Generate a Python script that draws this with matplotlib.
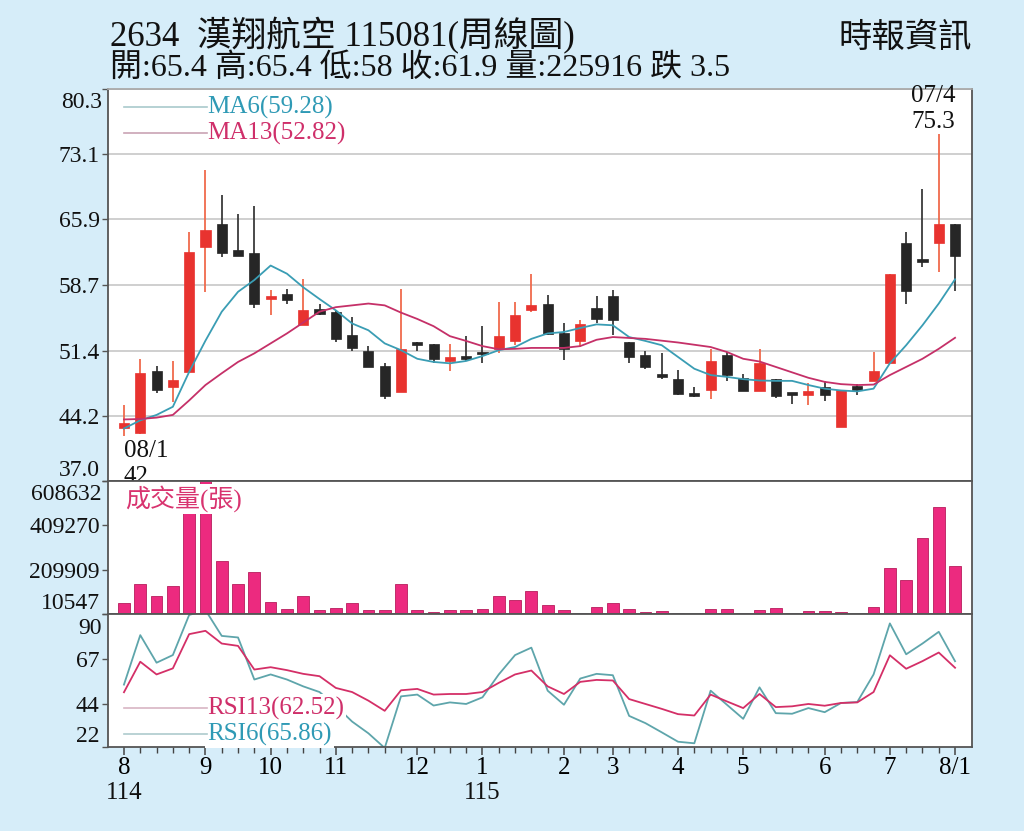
import numpy as np
import matplotlib
matplotlib.use('Agg')
import matplotlib.pyplot as plt
from matplotlib.lines import Line2D

plt.rcParams['font.family'] = ['Liberation Serif', 'Noto Sans CJK TC', 'DejaVu Sans']

# weekly candles, 2634 漢翔航空 (114/08 - 115/08)
opens = [42.8, 42.3, 49.1, 47.4, 49.0, 62.9, 65.4, 62.5, 62.2, 57.1,
         57.7, 54.2, 56.0, 55.7, 53.1, 51.4, 49.7, 46.8, 52.4, 52.1,
         50.2, 50.8, 51.3, 51.6, 52.5, 55.9, 56.6, 53.4, 52.5, 56.1,
         57.4, 52.3, 50.9, 48.8, 48.3, 46.7, 47.0, 50.9, 48.4, 46.9,
         48.3, 46.6, 46.5, 47.4, 43.0, 47.5, 48.1, 50.0, 63.3, 61.5,
         63.3, 65.4]
highs = [45.4, 50.5, 49.7, 50.3, 64.5, 71.4, 68.6, 66.5, 67.4, 58.1,
         58.2, 59.3, 56.6, 55.9, 55.1, 51.9, 50.0, 58.2, 52.4, 52.1,
         52.1, 53.0, 54.1, 56.8, 56.8, 59.9, 57.5, 54.5, 54.8, 57.4,
         58.1, 52.3, 51.4, 51.1, 49.3, 47.4, 51.6, 51.3, 48.8, 51.6,
         48.3, 46.6, 47.8, 48.1, 47.0, 47.7, 51.3, 59.9, 64.5, 69.3,
         75.3, 65.4]
lows = [42.0, 42.2, 46.7, 45.7, 49.0, 57.9, 61.7, 61.8, 56.1, 55.3,
        56.5, 54.2, 55.3, 52.4, 51.4, 49.6, 46.1, 46.8, 51.4, 50.0,
        49.1, 50.3, 50.0, 51.1, 52.0, 55.7, 53.1, 50.4, 51.8, 54.4,
        53.1, 50.0, 49.4, 48.3, 46.5, 46.3, 46.1, 48.0, 46.9, 46.9,
        46.2, 45.5, 45.4, 45.8, 43.0, 46.5, 48.1, 50.0, 56.6, 60.6,
        60.1, 58.0]
closes = [43.4, 48.9, 47.1, 48.2, 62.3, 64.7, 62.2, 61.9, 56.5, 57.4,
          57.0, 55.9, 55.4, 52.7, 51.7, 49.6, 46.4, 51.6, 52.0, 50.5,
          50.7, 50.5, 51.0, 53.0, 55.3, 56.4, 53.2, 51.6, 54.3, 54.9,
          54.8, 50.7, 49.6, 48.5, 46.6, 46.4, 50.3, 48.7, 46.9, 50.0,
          46.4, 46.5, 46.9, 46.5, 47.0, 47.1, 49.1, 59.9, 58.0, 61.2,
          65.4, 61.9]
volumes = [61000, 144000, 93000, 138000, 540000, 608632, 249000, 145000, 201000, 63000,
           33000, 93000, 27000, 37000, 58000, 30000, 30000, 145000, 27000, 21000,
           27000, 27000, 33000, 91000, 72000, 115000, 51000, 27000, 15000, 42000,
           61000, 34000, 21000, 25000, 16000, 11000, 32000, 32000, 15000, 29000,
           37000, 15000, 25000, 23000, 19000, 11000, 43000, 217000, 162000, 351000,
           493000, 225916]
ma6 = [42.8, 43.7, 44.3, 45.2, 49.05, 52.5, 55.7, 57.9, 59.2, 60.8,
       59.9, 58.4, 57.1, 55.85, 54.4, 53.65, 52.2, 51.45, 50.5, 50.15,
       50.0, 50.26, 50.8, 51.45, 51.8, 52.7, 53.3, 53.46, 53.9, 54.3,
       54.2, 52.9, 52.47, 52.0, 50.7, 49.4, 48.7, 48.5, 48.25, 48.1,
       48.06, 48.06, 47.6, 47.2, 47.0, 46.9, 47.2, 50.0, 52.0, 54.2,
       56.6, 59.28]
ma13 = [43.8, 43.85, 44.0, 44.3, 45.9, 47.6, 48.9, 50.15, 51.1, 52.2,
        53.3, 54.5, 55.7, 56.2, 56.4, 56.6, 56.4, 55.6, 54.9, 54.1,
        53.0, 52.47, 51.9, 51.55, 51.6, 51.7, 51.7, 51.7, 51.9, 52.6,
        52.9, 52.8, 52.7, 52.5, 52.3, 52.05, 51.8, 51.25, 50.5, 50.2,
        49.6, 49.0, 48.4, 47.95, 47.7, 47.6, 47.65, 48.7, 49.6, 50.5,
        51.6, 52.82]
rsi6 = [53.9, 79.2, 65.1, 69.0, 89.5, 92.0, 78.8, 78.0, 56.5, 59.1,
        56.5, 53.0, 50.1, 43.0, 35.0, 29.0, 21.5, 47.9, 48.8, 43.2,
        44.8, 44.0, 47.4, 59.1, 69.0, 72.8, 50.8, 43.6, 57.0, 59.4,
        58.7, 37.9, 34.2, 29.5, 24.7, 23.9, 50.8, 43.6, 36.4, 52.5,
        39.3, 39.0, 41.9, 39.8, 44.5, 45.0, 59.1, 85.2, 69.4, 74.9,
        80.9, 65.86]
rsi13 = [50.0, 65.6, 59.1, 62.2, 79.7, 81.4, 74.9, 73.7, 61.6, 62.8,
         61.3, 59.4, 58.2, 52.2, 50.1, 45.7, 40.5, 51.0, 51.7, 48.8,
         49.1, 49.1, 50.1, 54.8, 59.1, 61.1, 53.0, 49.1, 55.3, 56.3,
         56.0, 46.5, 44.0, 41.5, 38.8, 38.1, 48.8, 45.3, 41.9, 49.1,
         42.4, 42.8, 44.0, 43.1, 44.5, 44.8, 50.1, 68.9, 62.0, 65.9,
         70.3, 62.52]

month_idx = [0, 5, 9, 13, 18, 22, 27, 30, 34, 38, 43, 47, 51]
month_lbl = ['8', '9', '10', '11', '12', '1', '2', '3', '4', '5', '6', '7', '8/1']
year_idx = [0, 22]
year_lbl = ['114', '115']
price_ticks = [37.0, 44.2, 51.4, 58.7, 65.9, 73.1, 80.3]
vol_ticks = [10547, 209909, 409270, 608632]
rsi_ticks = [22, 44, 67, 90]

BG = '#d6edf9'
RED = '#e8332f'
BLK = '#262626'
C_MA6 = '#3a9db4'
C_MA13 = '#c53068'
C_VOL = '#ec2a7f'
C_R6 = '#5ea5ab'
C_R13 = '#d42f67'

W, H = 1024., 831.


def box(l, t, r, b):
    return [l / W, 1 - b / H, (r - l) / W, (b - t) / H]


fig = plt.figure(figsize=(10.24, 8.31), dpi=100)
fig.patch.set_facecolor(BG)
ax1 = fig.add_axes(box(108, 89, 972, 481))
ax2 = fig.add_axes(box(108, 481, 972, 614), sharex=ax1)
ax3 = fig.add_axes(box(108, 614, 972, 747), sharex=ax1)

x = np.arange(len(closes))
o = np.array(opens)
c = np.array(closes)
up = c >= o
body_col = np.where(up, RED, BLK)
wick_col = np.where(up, '#f06a4c', '#3a3a3a')

# price panel
ax1.vlines(x, lows, highs, colors=wick_col, lw=1.3, zorder=2)
ax1.bar(x, np.maximum(np.abs(c - o), 0.3), bottom=np.minimum(o, c), width=0.62,
        color=body_col, edgecolor=body_col, lw=0.5, zorder=3)
ax1.plot(x, ma6, color=C_MA6, lw=1.3, zorder=4)
ax1.plot(x, ma13, color=C_MA13, lw=1.3, zorder=4)
ax1.set_xlim(-0.98, 52.04)
ax1.set_ylim(price_ticks[0], price_ticks[-1])
ax1.grid(axis='y', color='#cccccc', lw=1.3, zorder=0)
ax1.set_axisbelow(True)

# volume panel
ax2.bar(x, volumes, width=0.72, color=C_VOL, edgecolor='#b81d5c', lw=0.6, zorder=2)
ax2.set_ylim(vol_ticks[0], vol_ticks[-1])

# RSI panel
ax3.plot(x, rsi6, color=C_R6, lw=1.3, zorder=2)
ax3.plot(x, rsi13, color=C_R13, lw=1.3, zorder=3)
ax3.set_ylim(rsi_ticks[0], rsi_ticks[-1])
ax3.set_xticks(month_idx)
ax3.set_xticklabels(month_lbl)
ax3.set_xticks(x, minor=True)
ax3.tick_params(axis='x', which='major', length=6, width=1.1, color='#444',
                labelsize=18, pad=1)
ax3.tick_params(axis='x', which='minor', length=4, width=1.0, color='#444')
for yi, yl in zip(year_idx, year_lbl):
    ax3.annotate(yl, xy=(yi, 0), xycoords=('data', 'axes fraction'),
                 xytext=(0, -46), textcoords='offset pixels',
                 ha='center', va='center', fontsize=18, color='#111')

# y axes: top label pushed down inside the panel, bottom label sits on the edge
for ax, ticks, fmt in ((ax1, price_ticks, '%.1f'), (ax2, vol_ticks, '%d'),
                       (ax3, rsi_ticks, '%d')):
    ax.set_facecolor('white')
    ax.set_yticks(ticks)
    ax.set_yticklabels([fmt % v for v in ticks[:-1]] + [''])
    ax.get_yticklabels()[0].set_va('bottom')
    ax.annotate(fmt % ticks[-1], xy=(0, 1), xycoords='axes fraction',
                xytext=(-6, -14), textcoords='offset pixels',
                ha='right', va='center', fontsize=17, color='#111')
    ax.tick_params(axis='y', length=4, width=1.0, color='#555', labelsize=17,
                   pad=2, labelcolor='#111')
    for s in ax.spines.values():
        s.set_color('#555')
        s.set_linewidth(1.3)
for ax in (ax1, ax2):
    ax.tick_params(axis='x', which='both', bottom=False, labelbottom=False)
ax1.spines['top'].set_color('#aaaaaa')

# highs / lows notes
ax1.annotate('07/4', xy=(50, highs[50]), xytext=(-6, 38), textcoords='offset pixels',
             ha='center', va='center', fontsize=18, color='#111')
ax1.annotate('%.1f' % highs[50], xy=(50, highs[50]), xytext=(-6, 12),
             textcoords='offset pixels', ha='center', va='center', fontsize=18, color='#111')
ax1.annotate('08/1', xy=(0, lows[0]), xytext=(0, -15), textcoords='offset pixels',
             ha='left', va='center', fontsize=18, color='#111')
ax1.annotate('%g' % lows[0], xy=(0, lows[0]), xytext=(0, -41), textcoords='offset pixels',
             ha='left', va='center', fontsize=18, color='#111')

# legends
wbox = dict(boxstyle='square,pad=0.08', fc='white', ec='none')


def legend_item(y, text, line_col, text_col):
    fig.add_artist(Line2D([124 / W, 207 / W], [1 - y / H, 1 - y / H],
                          color=line_col, lw=1.2, zorder=5))
    fig.text(207 / W, 1 - y / H, text, color=text_col, fontsize=18,
             ha='left', va='center', bbox=wbox, zorder=4)


legend_item(107, 'MA6(%.2f)' % ma6[-1], '#a9c9cc', '#2f9ab5')
legend_item(133, 'MA13(%.2f)' % ma13[-1], '#c9a3b4', '#cf2f6a')
legend_item(708, 'RSI13(%.2f)' % rsi13[-1], '#d8b5c3', '#cf2f6a')
legend_item(734, 'RSI6(%.2f)' % rsi6[-1], '#aecbcd', '#2f9ab5')
fig.text(125 / W, 1 - 499 / H, '成交量(張)', color='#d8336f', fontsize=18,
         ha='left', va='center', bbox=wbox, zorder=4)

# titles
fig.text(110 / W, 1 - 36 / H, '2634  漢翔航空 115081(周線圖)', fontsize=25,
         ha='left', va='center', color='#111')
fig.text(110 / W, 1 - 68 / H, '開:65.4 高:65.4 低:58 收:61.9 量:225916 跌 3.5',
         fontsize=23, ha='left', va='center', color='#111')
fig.text(972 / W, 1 - 38 / H, '時報資訊', fontsize=24, ha='right', va='center', color='#111')

fig.savefig('out.png', dpi=100, facecolor=BG)
